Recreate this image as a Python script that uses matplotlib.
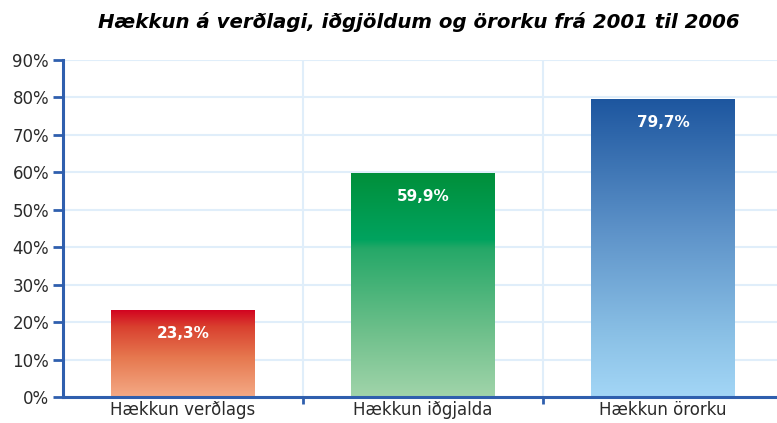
import matplotlib
matplotlib.use("Agg")
import matplotlib.pyplot as plt
import numpy as np
from matplotlib.colors import LinearSegmentedColormap
from matplotlib import font_manager

# data
categories = ["Hækkun verðlags", "Hækkun iðgjalda", "Hækkun örorku"]
values = [23.3, 59.9, 79.7]
labels = ["23,3%", "59,9%", "79,7%"]
yticks = [0, 10, 20, 30, 40, 50, 60, 70, 80, 90]

# gradient stops per bar, top -> bottom
grads = [
    [(0.0, "#d2001f"), (0.2, "#d9402f"), (0.55, "#e6784f"), (1.0, "#f4aa86")],
    [(0.0, "#008f3a"), (0.3, "#00a35f"), (0.34, "#25a868"), (0.7, "#6cbf8a"), (1.0, "#a1d4aa")],
    [(0.0, "#1d569f"), (0.45, "#5e93c9"), (0.8, "#8bc1e6"), (1.0, "#a3d6f6")],
]
axis_blue = "#2f5fae"

# pick a narrow font for the title if one is around
names = {f.name for f in font_manager.fontManager.ttflist}
if "Liberation Sans Narrow" in names:
    title_font, title_size = "Liberation Sans Narrow", 17
elif "DejaVu Sans Condensed" in names:
    title_font, title_size = "DejaVu Sans Condensed", 15.5
else:
    title_font, title_size = "DejaVu Sans", 14.2

fig = plt.figure(figsize=(7.77, 4.23), dpi=100)
ax = fig.add_axes([63 / 777, 26 / 423, 720 / 777, 337 / 423])

bars = ax.bar(range(len(values)), values, width=0.6, color="none", zorder=3)

for bar, stops in zip(bars, grads):
    cmap = LinearSegmentedColormap.from_list("g", stops)
    x0, w, h = bar.get_x(), bar.get_width(), bar.get_height()
    grad = np.linspace(0, 1, 256).reshape(-1, 1)
    im = ax.imshow(grad, cmap=cmap, aspect="auto", extent=[x0, x0 + w, 0, h],
                   origin="upper", zorder=2, interpolation="bicubic")
    im.set_clip_path(bar)

for i, (v, lab) in enumerate(zip(values, labels)):
    ax.text(i, v - 6.4, lab, ha="center", va="center", color="white",
            fontsize=11, fontweight="bold", zorder=4)

ax.set_xlim(-0.5, 2.5)
ax.set_ylim(0, 90)
ax.set_yticks(yticks)
ax.set_yticklabels([f"{t}%" for t in yticks], fontsize=12, color="#2a2a2a")
ax.set_xticks([0.5, 1.5])
ax.set_xticklabels([])
ax.set_xticks(range(3), minor=True)
ax.set_xticklabels(categories, minor=True, fontsize=12, color="#2a2a2a")
ax.tick_params(axis="x", which="minor", length=0, pad=3)
ax.tick_params(axis="x", which="major", length=5, width=2, color=axis_blue)
ax.tick_params(axis="y", length=7, width=2, color=axis_blue, pad=3)

ax.grid(True, axis="y", color="#e0eefa", lw=1.5, zorder=0)
ax.grid(True, axis="x", which="major", color="#e0eefa", lw=1.5, zorder=0)
ax.set_axisbelow(True)

for s in ["top", "right"]:
    ax.spines[s].set_visible(False)
for s in ["left", "bottom"]:
    ax.spines[s].set_color(axis_blue)
    ax.spines[s].set_linewidth(2.2)

fig.text(419 / 777, 1 - 22 / 423, "Hækkun á verðlagi, iðgjöldum og örorku frá 2001 til 2006",
         ha="center", va="center", fontsize=title_size, fontweight="bold", fontstyle="italic",
         family=[title_font, "DejaVu Sans"])

fig.savefig("out.png", dpi=100)
